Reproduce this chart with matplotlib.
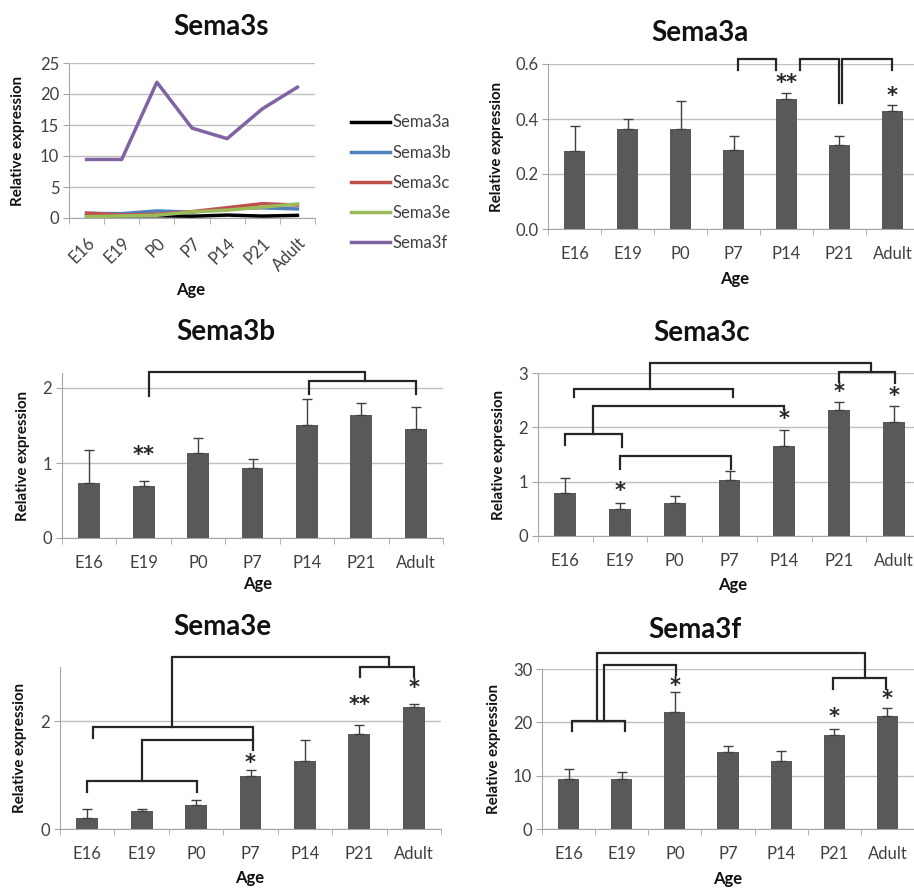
import numpy as np
import matplotlib
matplotlib.use('Agg')
import matplotlib.pyplot as plt

plt.rcParams['font.family'] = ['Lato', 'DejaVu Sans']

ages = ['E16', 'E19', 'P0', 'P7', 'P14', 'P21', 'Adult']

# means and upper error (SE)
sema3a = [0.284, 0.365, 0.363, 0.287, 0.473, 0.307, 0.429]
sema3a_err = [0.091, 0.035, 0.103, 0.050, 0.021, 0.032, 0.023]
sema3b = [0.74, 0.70, 1.14, 0.94, 1.51, 1.64, 1.46]
sema3b_err = [0.44, 0.06, 0.19, 0.12, 0.35, 0.16, 0.29]
sema3c = [0.80, 0.50, 0.60, 1.03, 1.66, 2.31, 2.09]
sema3c_err = [0.27, 0.11, 0.14, 0.16, 0.29, 0.16, 0.30]
sema3e = [0.21, 0.34, 0.44, 0.99, 1.26, 1.76, 2.26]
sema3e_err = [0.16, 0.03, 0.09, 0.10, 0.39, 0.16, 0.05]
sema3f = [9.44, 9.44, 21.9, 14.5, 12.8, 17.6, 21.1]
sema3f_err = [1.9, 1.2, 3.7, 1.1, 1.8, 1.1, 1.6]

line_names = ['Sema3a', 'Sema3b', 'Sema3c', 'Sema3e', 'Sema3f']
line_colors = ['#000000', '#4f81bd', '#c0504d', '#9bbb59', '#8064a2']

# significance brackets: (x1, y1, x2, y2, ytop)
brackets_a = [(3.08, 0.58, 3.81, 0.58, 0.62),
              (4.25, 0.58, 4.99, 0.457, 0.62),
              (5.05, 0.457, 6.0, 0.58, 0.62)]
brackets_b = [(1.09, 1.90, 5.06, 2.10, 2.21),
              (4.04, 1.92, 6.0, 1.92, 2.10)]
brackets_c = [(0.0, 1.67, 1.04, 1.64, 1.87),
              (0.50, 1.87, 4.0, 2.31, 2.39),
              (0.15, 2.55, 3.07, 2.55, 2.71),
              (1.54, 2.71, 5.59, 3.02, 3.18),
              (5.0, 2.84, 6.03, 2.82, 3.02),
              (1.0, 1.23, 3.02, 1.23, 1.47)]
brackets_e = [(0.0, 0.68, 2.02, 0.68, 0.88),
              (1.0, 0.88, 3.05, 1.47, 1.64),
              (0.1, 1.69, 3.05, 1.64, 1.88),
              (1.55, 1.88, 5.55, 3.0, 3.19),
              (5.02, 2.82, 6.0, 2.82, 3.0)]
brackets_f = [(0.06, 18.4, 1.07, 18.4, 20.2),
              (0.67, 20.2, 2.03, 28.9, 30.8),
              (0.53, 20.2, 5.58, 28.3, 33.0),
              (4.97, 26.3, 5.98, 26.3, 28.3)]

stars_a = [(4, 0.53, '**'), (6, 0.485, '*')]
stars_b = [(1, 1.11, '**')]
stars_c = [(1, 0.82, '*'), (4, 2.15, '*'), (5, 2.65, '*'), (6, 2.57, '*')]
stars_e = [(3, 1.23, '*'), (5, 2.29, '**'), (6, 2.62, '*')]
stars_f = [(2, 26.8, '*'), (5, 21.0, '*'), (6, 24.3, '*')]

W, H = 914, 889
fig = plt.figure(figsize=(W / 100, H / 100), dpi=100)

grid_c = '#bfbfbf'
spine_c = '#a6a6a6'
text_c = '#404040'


def px_axes(left, bottom, width, height):
    return fig.add_axes([left / W, 1 - bottom / H, width / W, height / H])


def style(ax, ylim, yticks, fmt='{:g}'):
    ax.set_xlim(-0.5, 6.5)
    ax.set_ylim(*ylim)
    ax.set_yticks(yticks)
    ax.set_yticklabels([fmt.format(t) for t in yticks], fontsize=12, color=text_c)
    ax.yaxis.grid(True, color=grid_c, lw=1)
    ax.set_axisbelow(True)
    for s in ['top', 'right']:
        ax.spines[s].set_visible(False)
    for s in ['left', 'bottom']:
        ax.spines[s].set_color(spine_c)
    ax.tick_params(axis='y', length=4, color=spine_c, pad=3)
    ax.set_xticks(np.arange(7))
    ax.set_xticks(np.arange(-0.5, 7, 1), minor=True)
    ax.tick_params(axis='x', which='major', length=0, pad=12)
    ax.tick_params(axis='x', which='minor', length=4, color=spine_c)


def bar_panel(ax, vals, errs, ylim, yticks, brackets, stars, fmt='{:g}'):
    x = np.arange(len(ages))
    ax.bar(x, vals, width=0.4, color='#595959', zorder=2)
    ax.errorbar(x, vals, yerr=[np.zeros(len(errs)), errs], fmt='none',
                ecolor='#404040', elinewidth=1, capsize=3.5, capthick=1, zorder=3)
    style(ax, ylim, yticks, fmt)
    ax.set_xticklabels(ages, fontsize=12, color=text_c)
    for x1, y1, x2, y2, yt in brackets:
        ax.plot([x1, x1, x2, x2], [y1, yt, yt, y2], color='#262626', lw=1.6,
                clip_on=False, zorder=4, solid_joinstyle='miter')
    for xs, ys, t in stars:
        ax.text(xs, ys, t, ha='center', va='center', fontsize=15, color='#262626',
                family='DejaVu Sans', fontweight='bold')


# Sema3s line panel
ax1 = px_axes(69, 218, 246, 155)
for name, vals, c in zip(line_names, [sema3a, sema3b, sema3c, sema3e, sema3f], line_colors):
    ax1.plot(np.arange(7), vals, color=c, lw=2.5, label=name)
style(ax1, (0, 25), [0, 5, 10, 15, 20, 25])
ax1.set_xticklabels(ages, fontsize=12, color=text_c, rotation=45, ha='right',
                    va='top', rotation_mode='anchor')
ax1.tick_params(axis='x', which='major', pad=12)
leg = ax1.legend(loc='upper left', bbox_to_anchor=(343 / W, 1 - 106 / H),
                 bbox_transform=fig.transFigure, frameon=False, fontsize=12,
                 handlelength=2.3, handletextpad=0.15, labelspacing=0.85, borderpad=0)
for t in leg.get_texts():
    t.set_color(text_c)

ax2 = px_axes(548, 229, 371, 165)
bar_panel(ax2, sema3a, sema3a_err, (0, 0.6), [0, 0.2, 0.4, 0.6], brackets_a, stars_a, '{:.1f}')

ax3 = px_axes(62, 538, 381, 165)
bar_panel(ax3, sema3b, sema3b_err, (0, 2.2), [0, 1, 2], brackets_b, stars_b)

ax4 = px_axes(538, 536, 383, 163)
bar_panel(ax4, sema3c, sema3c_err, (0, 3), [0, 1, 2, 3], brackets_c, stars_c)

ax5 = px_axes(60, 829, 381, 162)
bar_panel(ax5, sema3e, sema3e_err, (0, 3), [0, 2], brackets_e, stars_e)

ax6 = px_axes(542, 829, 372, 160)
bar_panel(ax6, sema3f, sema3f_err, (0, 30), [0, 10, 20, 30], brackets_f, stars_f)

# titles, axis labels
titles = [('Sema3s', 221, 27), ('Sema3a', 700, 33), ('Sema3b', 226, 332),
          ('Sema3c', 702, 333), ('Sema3e', 222, 627), ('Sema3f', 695, 630)]
for t, x, y in titles:
    fig.text(x / W, 1 - y / H, t, ha='center', va='center', fontsize=20,
             fontweight='bold', color='#111111')

ylabels = [(ax1, 18), (ax2, 497), (ax3, 23), (ax4, 499), (ax5, 20), (ax6, 494)]
for ax, x in ylabels:
    b = ax.get_position()
    fig.text(x / W, (b.y0 + b.y1) / 2, 'Relative expression', rotation=90,
             ha='center', va='center', fontsize=10.8, fontweight='bold', color='#111111')

agelabels = [(191, 290), (735, 279), (258, 584), (733, 585), (250, 878), (728, 879)]
for x, y in agelabels:
    fig.text(x / W, 1 - y / H, 'Age', ha='center', va='center', fontsize=12,
             fontweight='bold', color='#111111')

fig.savefig('out.png', dpi=100)
